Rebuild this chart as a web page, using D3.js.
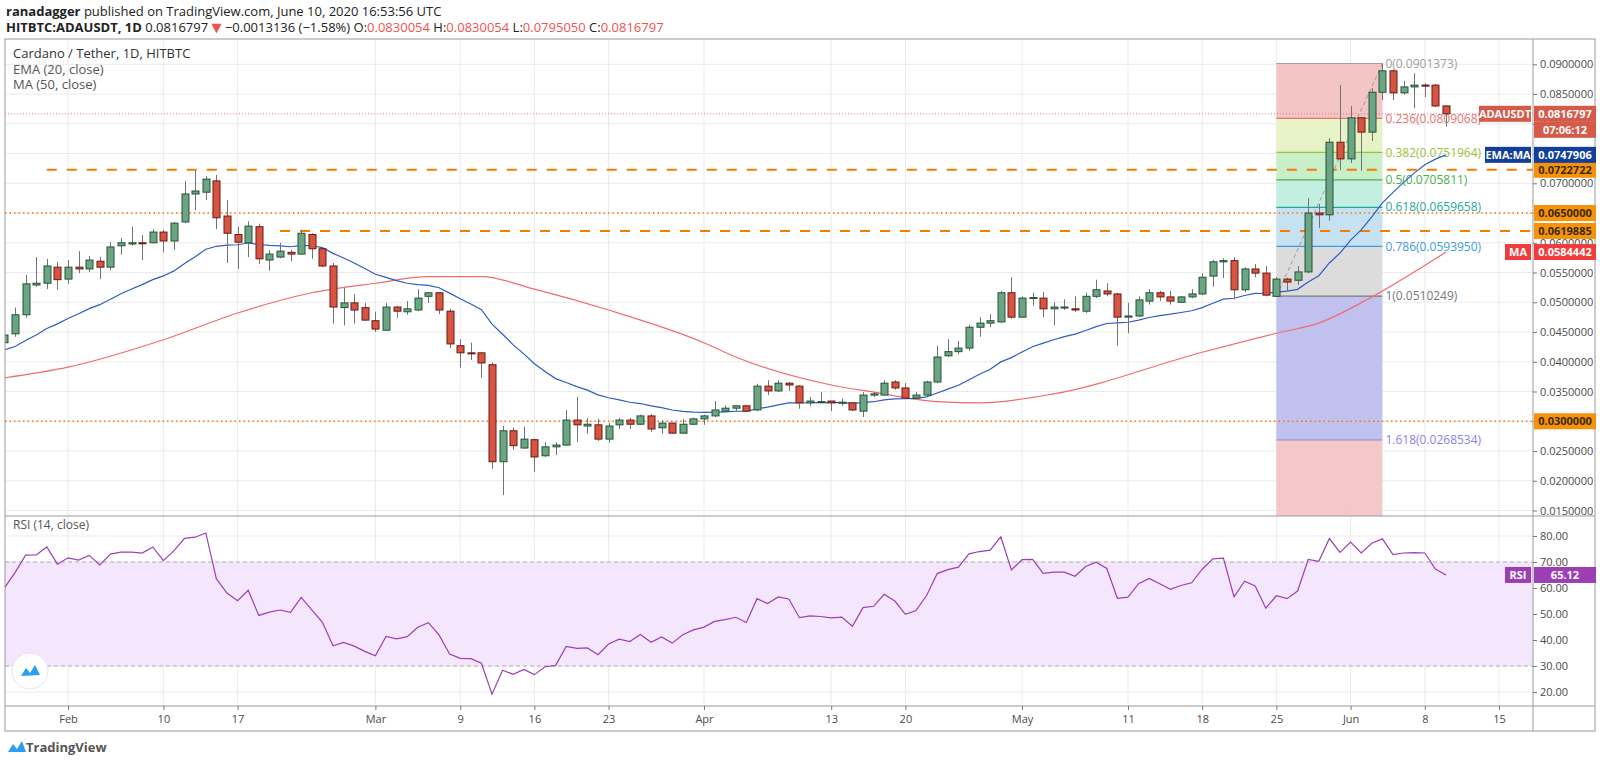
<!DOCTYPE html>
<html>
<head>
<meta charset="utf-8">
<script src="https://cdn.jsdelivr.net/npm/d3@7"></script>
<style>
  body { margin: 0; background: #fff; }
  svg { font-family: "Open Sans", "DejaVu Sans", sans-serif; }
</style>
</head>
<body>
<svg id="chart" width="1600" height="763"></svg>
<script>
// daily candles, first one is 2020-01-26
const firstDay = Date.UTC(2020, 0, 26);

const opens = [
  .0432, .0447, .0479, .0529, .0532, .0559, .0539, .0559, .0556, .0569,
  .0559, .0595, .0598, .0600, .0600, .0618, .0603, .0635, .0682, .0685,
  .0704, .0645, .0614, .0600, .0627, .0571, .0576, .0584, .0581, .0614,
  .0590, .0561, .0491, .0499, .0491, .0469, .0453, .0492, .0484, .0487,
  .0510, .0516, .0485, .0427, .0415, .0415, .0395, .0232, .0284, .0255,
  .0269, .0242, .0257, .0260, .0302, .0292, .0294, .0270, .0294, .0302,
  .0295, .0309, .0289, .0297, .0280, .0295, .0304, .0309, .0317, .0322,
  .0326, .0319, .0359, .0351, .0364, .0359, .0331, .0332, .0334, .0331,
  .0331, .0317, .0344, .0344, .0366, .0356, .0339, .0344, .0366, .0410,
  .0417, .0423, .0458, .0465, .0467, .0516, .0475, .0507, .0507, .0489,
  .0492, .0489, .0485, .0510, .0519, .0514, .0475, .0477, .0502, .0516,
  .0509, .0500, .0509, .0514, .0544, .0568, .0570, .0521, .0556, .0549,
  .0510, .0539, .0537, .0551, .0650, .0647, .0769, .0741, .0810, .0786,
  .0853, .0889, .0852, .0862, .0865, .0865, .0830054
];
const highs = [
  .0448, .0491, .0546, .0576, .0573, .0568, .0571, .0586, .0578, .0576,
  .0601, .0608, .0627, .0613, .0623, .0622, .0635, .0704, .0722, .0712,
  .0714, .0672, .0627, .0636, .0632, .0588, .0600, .0588, .0622, .0616,
  .0591, .0566, .0524, .0514, .0499, .0484, .0499, .0494, .0502, .0522,
  .0517, .0517, .0489, .0438, .0432, .0416, .0399, .0292, .0289, .0291,
  .0270, .0265, .0265, .0319, .0341, .0306, .0304, .0297, .0306, .0306,
  .0311, .0312, .0302, .0297, .0304, .0306, .0311, .0334, .0327, .0327,
  .0326, .0363, .0369, .0369, .0366, .0361, .0341, .0349, .0334, .0338,
  .0332, .0349, .0349, .0369, .0369, .0364, .0349, .0368, .0427, .0438,
  .0435, .0462, .0475, .0480, .0519, .0542, .0510, .0516, .0517, .0500,
  .0505, .0510, .0516, .0538, .0532, .0516, .0499, .0510, .0522, .0519,
  .0519, .0510, .0522, .0549, .0571, .0574, .0576, .0559, .0564, .0561,
  .0542, .0541, .0561, .0675, .0665, .0776, .0865, .0830, .0811, .0860,
  .0901373, .0891, .0872, .0885, .0868, .0867, .0830054
];
const lows = [
  .0428, .0442, .0474, .0526, .0522, .0521, .0531, .0549, .0551, .0539,
  .0554, .0580, .0595, .0571, .0599, .0584, .0588, .0633, .0655, .0672,
  .0623, .0566, .0556, .0576, .0564, .0553, .0574, .0569, .0580, .0573,
  .0559, .0464, .0461, .0464, .0469, .0450, .0452, .0474, .0479, .0485,
  .0499, .0480, .0423, .0390, .0403, .0373, .0220, .0176, .0252, .0254,
  .0215, .0240, .0243, .0259, .0265, .0279, .0267, .0264, .0287, .0287,
  .0294, .0282, .0279, .0279, .0279, .0294, .0294, .0307, .0316, .0317,
  .0316, .0317, .0344, .0349, .0351, .0321, .0326, .0331, .0317, .0326,
  .0317, .0307, .0341, .0343, .0353, .0338, .0338, .0343, .0364, .0408,
  .0412, .0418, .0442, .0458, .0465, .0472, .0474, .0494, .0475, .0461,
  .0487, .0484, .0482, .0507, .0510, .0427, .0448, .0475, .0496, .0502,
  .0496, .0499, .0507, .0512, .0526, .0541, .0505, .0517, .0542, .0510,
  .0509, .0519, .0529, .0549, .0625, .0637, .0722, .0734, .0721, .0771,
  .0840, .0840, .0849, .0826, .0845, .0828, .0795050
];
const closes = [
  .0445, .0479, .0531, .0532, .0561, .0538, .0559, .0556, .0571, .0559,
  .0593, .0600, .0600, .0599, .0618, .0603, .0633, .0682, .0687, .0707,
  .0642, .0616, .0601, .0628, .0573, .0581, .0586, .0581, .0616, .0590,
  .0561, .0492, .0499, .0487, .0470, .0455, .0492, .0485, .0489, .0507,
  .0516, .0487, .0430, .0415, .0414, .0398, .0232, .0284, .0259, .0270,
  .0240, .0257, .0260, .0302, .0294, .0295, .0270, .0292, .0302, .0295,
  .0309, .0287, .0297, .0280, .0295, .0304, .0309, .0319, .0322, .0326,
  .0317, .0359, .0351, .0364, .0361, .0331, .0334, .0333, .0331, .0332,
  .0319, .0344, .0346, .0364, .0356, .0339, .0344, .0366, .0408, .0417,
  .0423, .0458, .0465, .0469, .0516, .0475, .0507, .0508, .0489, .0492,
  .0492, .0487, .0510, .0521, .0514, .0475, .0477, .0504, .0516, .0509,
  .0502, .0509, .0514, .0542, .0568, .0570, .0521, .0556, .0549, .0512,
  .0539, .0534, .0551, .0650, .0647, .0769, .0741, .0810, .0786, .0853,
  .0889, .0852, .0862, .0865, .0864, .0830, .0816797
];

// MA(50) at a few dates (day index from Jan 26)
const maDays = [0, 6, 15, 22, 29, 35, 40, 45, 50, 57, 66, 69, 78, 82, 88, 92, 99, 113, 120, 124, 129, 136];
const maVals = [.0373, .0391, .0437, .0482, .0516, .0532, .0543, .0543, .0522, .0487, .0432, .0408, .0361, .0349, .0333, .0331, .0346, .0416, .0448, .0465, .0509, .0584442];

const emaSeed = 0.0420;

const priceTicks = d3.range(0.015, 0.0901, 0.005);
const rsiTicks = [20, 30, 40, 50, 60, 70, 80];
const dateTicks = [
  ["2020-02-01", "Feb"], ["2020-02-10", "10"], ["2020-02-17", "17"], ["2020-03-01", "Mar"],
  ["2020-03-09", "9"], ["2020-03-16", "16"], ["2020-03-23", "23"], ["2020-04-01", "Apr"],
  ["2020-04-13", "13"], ["2020-04-20", "20"], ["2020-05-01", "May"], ["2020-05-11", "11"],
  ["2020-05-18", "18"], ["2020-05-25", "25"], ["2020-06-01", "Jun"], ["2020-06-08", "8"],
  ["2020-06-15", "15"]
];

const fibLevels = [0, 0.236, 0.382, 0.5, 0.618, 0.786, 1, 1.618];
const fibPrices = [0.0901373, 0.0809068, 0.0751964, 0.0705811, 0.0659658, 0.0593950, 0.0510249, 0.0268534];
const fibLine = ["#9e9e9e", "#e57373", "#9dc23a", "#4caf50", "#26a69a", "#3d9be0", "#787878", "#8a83e6"];
const fibFill = ["#f3c5c5", "#e7f2c6", "#c9efc9", "#c3efe0", "#c6e2f2", "#dcdcdc", "#c1c1f0", "#f3c5c5"];
const fibStart = "2020-05-25", fibEnd = "2020-06-04";

const levels = [
  {v: 0.0722722, style: "dash", from: "2020-01-30"},
  {v: 0.0650000, style: "dot", from: null},
  {v: 0.0619885, style: "dash", from: "2020-02-21"},
  {v: 0.0300000, style: "dot", from: null}
];

const svg = d3.select("#chart");
const left = 5, right = 1533, pTop = 39, pBot = 516, rTop = 516, rBot = 706, frameBot = 731;
const dayMs = 86400000;
const dayOf = i => new Date(firstDay + i * dayMs);

const x = d3.scaleUtc()
  .domain([new Date(Date.UTC(2020, 1, 1)), new Date(Date.UTC(2020, 5, 1))])
  .range([68, 68 + 121 * 10.6]);
const y = d3.scaleLinear().domain([0.015, 0.09]).range([510.5, 64.3]);
const ry = d3.scaleLinear().domain([30, 80]).range([666, 536]);
const pd = s => new Date(s + "T00:00:00Z");

// clip areas
const defs = svg.append("defs");
defs.append("clipPath").attr("id", "cp").append("rect")
  .attr("x", left).attr("y", pTop).attr("width", right - left).attr("height", pBot - pTop);
defs.append("clipPath").attr("id", "cr").append("rect")
  .attr("x", left).attr("y", rTop).attr("width", right - left).attr("height", rBot - rTop);

// header
const hdr = svg.append("text").attr("x", 6).attr("y", 16).attr("font-size", 13).attr("fill", "#222");
hdr.append("tspan").attr("font-weight", "bold").text("ranadagger");
hdr.append("tspan").text(" published on TradingView.com, June 10, 2020 16:53:56 UTC");
const h2 = svg.append("text").attr("x", 6).attr("y", 32).attr("font-size", 13).attr("fill", "#222");
h2.append("tspan").attr("font-weight", "bold").text("HITBTC:ADAUSDT, 1D");
h2.append("tspan").text("  0.0816797 ");
h2.append("tspan").attr("fill", "#ef5350").text("▼");
h2.append("tspan").text(" −0.0013136 (−1.58%) O:");
h2.append("tspan").attr("fill", "#ef5350").text("0.0830054");
h2.append("tspan").text(" H:");
h2.append("tspan").attr("fill", "#ef5350").text("0.0830054");
h2.append("tspan").text(" L:");
h2.append("tspan").attr("fill", "#ef5350").text("0.0795050");
h2.append("tspan").text(" C:");
h2.append("tspan").attr("fill", "#ef5350").text("0.0816797");

// grid
const grid = svg.append("g").attr("stroke", "#ebebeb").attr("stroke-width", 1);
priceTicks.forEach(t => grid.append("line").attr("x1", left).attr("x2", right).attr("y1", y(t)).attr("y2", y(t)));
rsiTicks.forEach(t => grid.append("line").attr("x1", left).attr("x2", right).attr("y1", ry(t)).attr("y2", ry(t)));
dateTicks.forEach(([d]) => grid.append("line").attr("x1", x(pd(d))).attr("x2", x(pd(d))).attr("y1", pTop).attr("y2", rBot));

const pg = svg.append("g").attr("clip-path", "url(#cp)");

// fibonacci retracement
const fx0 = x(pd(fibStart)), fx1 = x(pd(fibEnd));
fibPrices.forEach((p, i) => {
  const next = i < fibPrices.length - 1 ? y(fibPrices[i + 1]) : pBot;
  pg.append("rect").attr("x", fx0).attr("width", fx1 - fx0)
    .attr("y", y(p)).attr("height", next - y(p)).attr("fill", fibFill[i]).attr("opacity", i === 7 ? 0.95 : 1);
});
fibPrices.forEach((p, i) => {
  pg.append("line").attr("x1", fx0).attr("x2", fx1).attr("y1", y(p)).attr("y2", y(p))
    .attr("stroke", fibLine[i]).attr("stroke-width", 1.2);
  pg.append("text").attr("x", fx1 + 3).attr("y", y(p)).attr("dy", "0.35em")
    .attr("font-size", 12).attr("fill", fibLine[i])
    .text(fibLevels[i] + "(" + p.toFixed(7) + ")");
});
pg.append("line").attr("x1", fx0).attr("y1", y(fibPrices[6])).attr("x2", fx1).attr("y2", y(fibPrices[0]))
  .attr("stroke", "#999").attr("stroke-dasharray", "4,3");

// support / resistance lines
levels.forEach(l => {
  pg.append("line")
    .attr("x1", l.from ? x(pd(l.from)) : left).attr("x2", right)
    .attr("y1", y(l.v)).attr("y2", y(l.v))
    .attr("stroke", "#f57c00").attr("stroke-width", l.style === "dash" ? 2 : 1.6)
    .attr("stroke-dasharray", l.style === "dash" ? "10,10" : "1.5,3");
});

// last price line
pg.append("line").attr("x1", left).attr("x2", right).attr("y1", y(0.0816797)).attr("y2", y(0.0816797))
  .attr("stroke", "#e06060").attr("stroke-width", 1).attr("stroke-dasharray", "1,2").attr("opacity", 0.8);

// MA 50
const maLine = d3.line().x(d => x(dayOf(d[0]))).y(d => y(d[1])).curve(d3.curveMonotoneX);
pg.append("path").datum(maDays.map((d, i) => [d, maVals[i]]))
  .attr("d", maLine).attr("fill", "none").attr("stroke", "#f26b6b").attr("stroke-width", 1.2);

// EMA 20 from closes
const k = 2 / 21;
let e = emaSeed;
const ema = closes.map((c, i) => { if (i > 0) e = c * k + e * (1 - k); return [i, e]; });
pg.append("path").datum(ema)
  .attr("d", d3.line().x(d => x(dayOf(d[0]))).y(d => y(d[1])))
  .attr("fill", "none").attr("stroke", "#2d5cc4").attr("stroke-width", 1.2);

// candles
const bw = 7;
closes.forEach((c, i) => {
  const o = opens[i], up = c >= o, cx = Math.round(x(dayOf(i)));
  pg.append("line").attr("x1", cx + 0.5).attr("x2", cx + 0.5).attr("y1", y(highs[i])).attr("y2", y(lows[i]))
    .attr("stroke", "#737375");
  const top = y(Math.max(o, c)), h = Math.max(1, y(Math.min(o, c)) - top);
  pg.append("rect").attr("x", cx - bw / 2 + 0.5).attr("y", top).attr("width", bw).attr("height", h)
    .attr("fill", up ? "#6ba583" : "#d75442").attr("stroke", up ? "#225437" : "#6b1a0f").attr("stroke-width", 1);
});

// legend
svg.append("text").attr("x", 13).attr("y", 58).attr("font-size", 13).attr("fill", "#333").text("Cardano / Tether, 1D, HITBTC");
svg.append("text").attr("x", 13).attr("y", 74).attr("font-size", 13).attr("fill", "#555").text("EMA (20, close)");
svg.append("text").attr("x", 13).attr("y", 89).attr("font-size", 13).attr("fill", "#555").text("MA (50, close)");

// RSI panel
const rg = svg.append("g").attr("clip-path", "url(#cr)");
rg.append("rect").attr("x", left).attr("width", right - left).attr("y", ry(70)).attr("height", ry(30) - ry(70))
  .attr("fill", "#f4e6fc");
[70, 30].forEach(v => rg.append("line").attr("x1", left).attr("x2", right).attr("y1", ry(v)).attr("y2", ry(v))
  .attr("stroke", "#b0b0b0").attr("stroke-dasharray", "4,3"));
let ag = 0.0009, al = 0.0006;
const rsi = closes.map((c, i) => {
  if (i > 0) {
    const ch = c - closes[i - 1];
    ag = (ag * 13 + Math.max(ch, 0)) / 14;
    al = (al * 13 + Math.max(-ch, 0)) / 14;
  }
  return [i, 100 - 100 / (1 + ag / al)];
});
rg.append("path").datum(rsi)
  .attr("d", d3.line().x(d => x(dayOf(d[0]))).y(d => ry(d[1])))
  .attr("fill", "none").attr("stroke", "#9c3fb5").attr("stroke-width", 1.2);
svg.append("text").attr("x", 13).attr("y", 529).attr("font-size", 12).attr("fill", "#555").text("RSI (14, close)");

// frames
svg.append("rect").attr("x", left).attr("y", pTop).attr("width", 1595 - left).attr("height", frameBot - pTop)
  .attr("fill", "none").attr("stroke", "#9a9a9a");
svg.append("line").attr("x1", left).attr("x2", 1595).attr("y1", pBot).attr("y2", pBot).attr("stroke", "#9a9a9a");
svg.append("line").attr("x1", left).attr("x2", 1595).attr("y1", rBot).attr("y2", rBot).attr("stroke", "#9a9a9a");
svg.append("line").attr("x1", right).attr("x2", right).attr("y1", pTop).attr("y2", frameBot).attr("stroke", "#9a9a9a");

// price axis
const pAxis = svg.append("g").attr("transform", `translate(${right},0)`)
  .call(d3.axisRight(y).tickValues(priceTicks).tickFormat(d3.format(".7f")).tickSize(4));
pAxis.select(".domain").remove();
pAxis.selectAll("text").attr("font-size", 11).attr("fill", "#4a4a4a").attr("font-family", "Open Sans, sans-serif");
pAxis.selectAll("line").attr("stroke", "#777");

const rAxis = svg.append("g").attr("transform", `translate(${right},0)`)
  .call(d3.axisRight(ry).tickValues(rsiTicks).tickFormat(d3.format(".2f")).tickSize(4));
rAxis.select(".domain").remove();
rAxis.selectAll("text").attr("font-size", 11).attr("fill", "#4a4a4a").attr("font-family", "Open Sans, sans-serif");
rAxis.selectAll("line").attr("stroke", "#777");

// date axis
const dAxis = svg.append("g").attr("transform", `translate(0,${rBot})`)
  .call(d3.axisBottom(x).tickValues(dateTicks.map(d => pd(d[0])))
    .tickFormat((d, i) => dateTicks[i][1]).tickSize(4));
dAxis.select(".domain").remove();
dAxis.selectAll("text").attr("font-size", 11).attr("fill", "#4a4a4a").attr("dy", "0.9em").attr("font-family", "Open Sans, sans-serif");
dAxis.selectAll("line").attr("stroke", "#777");

// axis tags
function tag(v, scale, bg, fg, txt, dy) {
  const yy = scale(v) + (dy || 0);
  svg.append("rect").attr("x", right + 1).attr("y", yy - 8).attr("width", 62).attr("height", 16).attr("fill", bg);
  svg.append("text").attr("x", right + 32).attr("y", yy).attr("dy", "0.35em").attr("text-anchor", "middle")
    .attr("font-size", 11).attr("font-weight", "bold").attr("fill", fg).text(txt);
}
function sideTag(v, scale, bg, txt, w) {
  const yy = scale(v);
  svg.append("rect").attr("x", right - w - 2).attr("y", yy - 8).attr("width", w).attr("height", 16).attr("fill", bg);
  svg.append("text").attr("x", right - 2 - w / 2).attr("y", yy).attr("dy", "0.35em").attr("text-anchor", "middle")
    .attr("font-size", 11).attr("font-weight", "bold").attr("fill", "#fff").text(txt);
}
levels.forEach(l => tag(l.v, y, "#f7930b", "#3a2a00", l.v.toFixed(7)));
tag(0.0816797, y, "#d65a4a", "#fff", "0.0816797");
tag(0.0816797, y, "#d65a4a", "#fff", "07:06:12", 16);
sideTag(0.0816797, y, "#d65a4a", "ADAUSDT", 52);
tag(ema[ema.length - 1][1], y, "#123f9c", "#fff", "0.0747906");
sideTag(ema[ema.length - 1][1], y, "#123f9c", "EMA:MA", 46);
tag(0.0584442, y, "#ef3d3d", "#fff", "0.0584442");
sideTag(0.0584442, y, "#ef3d3d", "MA", 26);
const lastRsi = rsi[rsi.length - 1][1];
tag(lastRsi, ry, "#9c3fb5", "#fff", "65.12");
sideTag(lastRsi, ry, "#9c3fb5", "RSI", 26);

// logo
const lg = svg.append("g").attr("transform", "translate(30,671)");
lg.append("circle").attr("r", 18).attr("fill", "#fff").attr("stroke", "#e6e6e6");
lg.append("path").attr("d", "M-9,5 L-4,-3 L0,2 L5,-6 L10,4 Z").attr("fill", "#2a9df4");
svg.append("text").attr("x", 26).attr("y", 752).attr("font-size", 13).attr("font-weight", "bold").attr("fill", "#555").text("TradingView");
svg.append("path").attr("d", "M8,752 l5,-8 l4,5 l5,-8 l4,11 z").attr("fill", "#2a9df4");
</script>
</body>
</html>
